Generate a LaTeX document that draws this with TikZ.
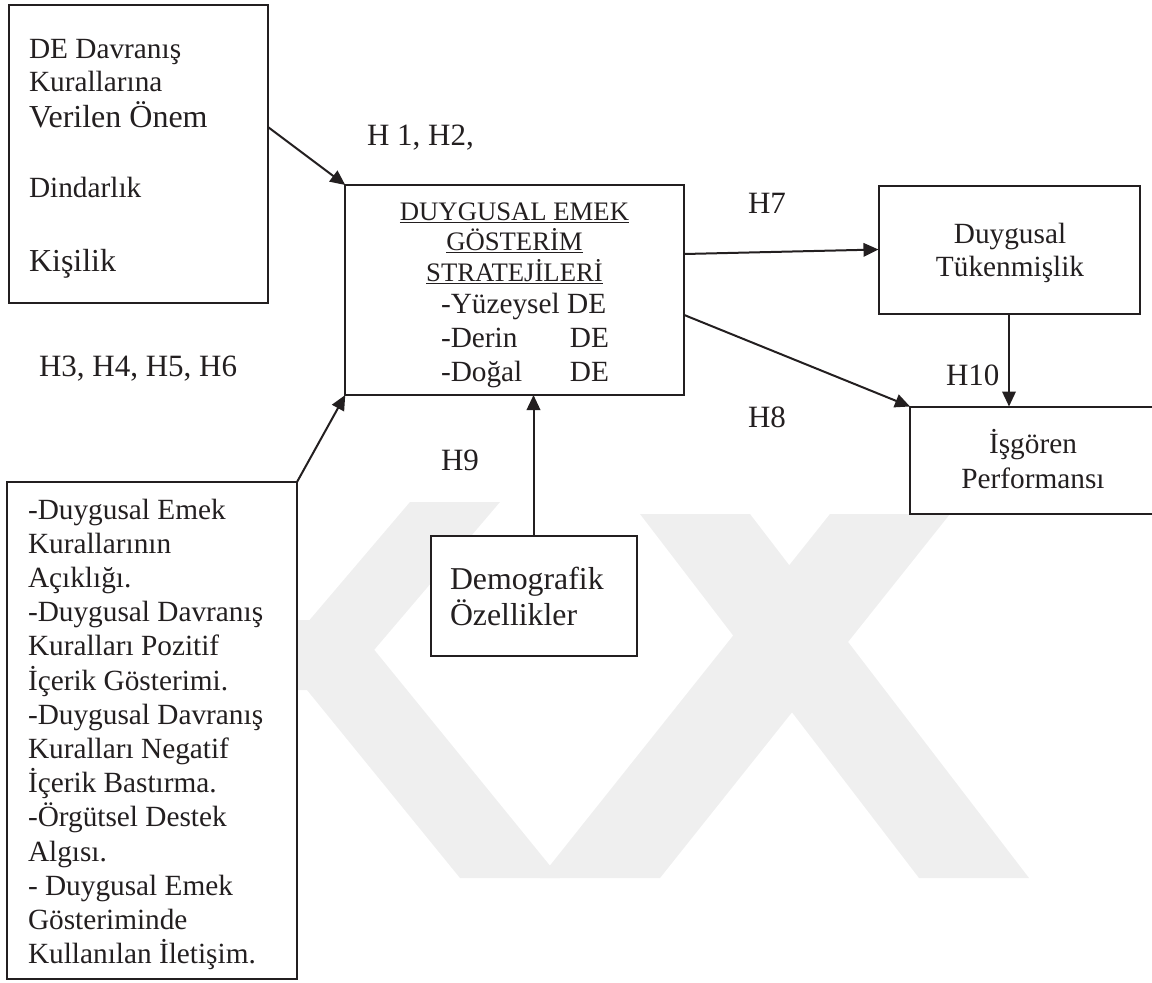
\documentclass[tikz,border=0pt]{standalone}
\usepackage{fontspec}
\setmainfont{Liberation Serif}
\usetikzlibrary{arrows.meta}
\definecolor{ink}{HTML}{231F20}
\definecolor{mark}{HTML}{EFEFEF}
\newcommand\fsz[2]{\fontsize{#1}{#2}\selectfont}
\begin{document}
\begin{tikzpicture}[x=1pt,y=-1pt,
  boxframe/.style={draw=ink, fill=white, line width=2pt, rectangle, inner sep=0pt, outer sep=0pt},
  hyp/.style={inner sep=0pt, outer sep=0pt, text=ink, font=\fsz{31}{36}, anchor=base west},
  body/.style={inner sep=0pt, outer sep=0pt, text=ink, font=\fsz{29.3}{34.2}},
  band/.style={fill=mark, draw=none},
  conn/.style={draw=ink, line width=2pt, -{Triangle[length=15pt,width=13.5pt]}}]
\useasboundingbox (0,0) rectangle (1152,983);

% faint emblem in the background
\fill[band] (250,620) -- (350,620) -- (560,878) -- (460,878) -- cycle;
\fill[band] (250,690) -- (340,690) -- (500,502) -- (410,502) -- cycle;
\fill[band] (540,878) -- (660,878) -- (950,514) -- (830,514) -- cycle;
\fill[band] (640,514) -- (750,514) -- (1029,878) -- (919,878) -- cycle;

% boxes
\node[boxframe, minimum width=259pt, minimum height=298pt] (b1) at (138.5,154) {};
\node[boxframe, minimum width=339pt, minimum height=210pt] (dem) at (514.75,290) {};
\node[boxframe, minimum width=261pt, minimum height=128pt] (tuk) at (1009,249.5) {};
\node[boxframe, minimum width=250pt, minimum height=107pt] (perf) at (1035,460) {};
\node[boxframe, minimum width=290pt, minimum height=497pt] (ant) at (152,730.5) {};
\node[boxframe, minimum width=206pt, minimum height=120pt] (demo) at (533.5,596) {};

% texts of the upper left box
\node[body, anchor=base west] (b1a) at (29,58) {DE Davranış};
\node[body, anchor=base west] (b1b) at (29,91) {Kurallarına};
\node[body, anchor=base west, font=\fsz{32}{36}] (b1c) at (29,127) {Verilen Önem};
\node[body, anchor=base west] (b1d) at (29,197.5) {Dindarlık};
\node[body, anchor=base west, font=\fsz{32}{36}] (b1e) at (29,271.5) {Kişilik};

% central box
\node[body, anchor=base, font=\fsz{26.7}{30.2}] (demhead) at (514.5,220.7)
  {\parbox[t]{300pt}{\centering\underline{DUYGUSAL EMEK}\\ \underline{GÖSTERİM}\\ \underline{STRATEJİLERİ}}};
\node[body, anchor=base west, font=\fsz{29.3}{33.8}] (demopts) at (441,313.5)
  {\parbox[t]{168pt}{-Yüzeysel DE\\ -Derin\hfill DE\\ -Doğal\hfill DE}};

% outcome boxes
\node[body, anchor=base, font=\fsz{29.3}{33}] (tukt) at (1010,243)
  {\parbox[t]{220pt}{\centering Duygusal\\ Tükenmişlik}};
\node[body, anchor=base, font=\fsz{29.3}{35}] (perft) at (1033,453)
  {\parbox[t]{220pt}{\centering İşgören\\ Performansı}};

% demographic box
\node[body, anchor=base west, font=\fsz{31.8}{36}] (demot) at (450,589)
  {\parbox[t]{180pt}{Demografik\\ Özellikler}};

% lower left box
\node[body, anchor=base west, font=\fsz{29.3}{34.2}] (antt) at (28,519)
  {\parbox[t]{265pt}{\raggedright
   -Duygusal Emek\\
   Kurallarının\\
   Açıklığı.\\
   -Duygusal Davranış\\
   Kuralları Pozitif\\
   İçerik Gösterimi.\\
   -Duygusal Davranış\\
   Kuralları Negatif\\
   İçerik Bastırma.\\
   -Örgütsel Destek\\
   Algısı.\\
   - Duygusal Emek\\
   Gösteriminde\\
   Kullanılan İletişim.}};

% hypothesis labels
\node[hyp] (h12) at (367,145) {H 1, H2,};
\node[hyp] (h36) at (39,376) {H3, H4, H5, H6};
\node[hyp] (h7) at (748,213) {H7};
\node[hyp] (h8) at (748,427) {H8};
\node[hyp] (h9) at (441,470) {H9};
\node[hyp] (h10) at (946,385) {H10};

% paths
\draw[conn] ([yshift=27pt]b1.east) -- (dem.north west);
\draw[conn] (ant.north east) -- (dem.south west);
\draw[conn] ([yshift=36pt]dem.east) -- (tuk.west);
\draw[conn] ([yshift=-25pt]dem.east) -- (perf.north west);
\draw[conn] (tuk.south) -- (tuk.south |- perf.north);
\draw[conn] (demo.north) -- (demo.north |- dem.south);
\end{tikzpicture}
\end{document}
